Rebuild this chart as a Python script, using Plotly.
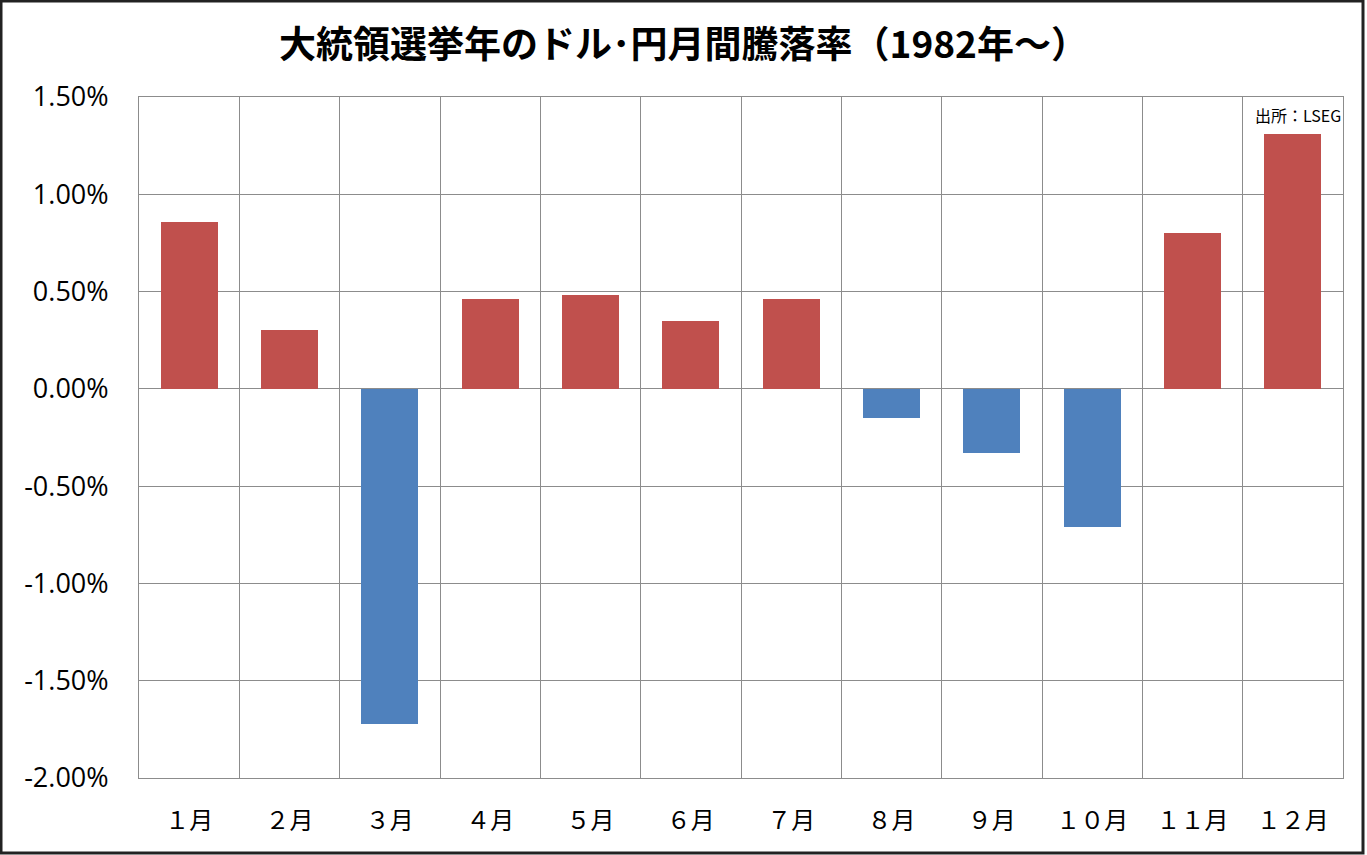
import plotly.graph_objects as go

months = ["１月", "２月", "３月", "４月", "５月", "６月", "７月", "８月", "９月", "１０月", "１１月", "１２月"]
values = [0.86, 0.30, -1.72, 0.46, 0.48, 0.35, 0.46, -0.15, -0.33, -0.71, 0.80, 1.31]
tick_vals = [1.5, 1.0, 0.5, 0.0, -0.5, -1.0, -1.5, -2.0]
tick_text = [f"{v:.2f}%" for v in tick_vals]

RED = "#C0504D"
BLUE = "#4F81BD"
colors = [RED if v >= 0 else BLUE for v in values]
xpos = list(range(1, len(months) + 1))

fig = go.Figure()
fig.add_trace(go.Bar(x=xpos, y=values, marker=dict(color=colors, line=dict(width=0)),
                     width=0.57, showlegend=False, hoverinfo="y"))
# invisible trace for category labels axis
fig.add_trace(go.Scatter(x=xpos, y=[None] * len(xpos), xaxis="x2", showlegend=False,
                         mode="markers", hoverinfo="skip"))

L, R, T, B = 139, 24, 97, 77
W, H = 1367, 855
pw, ph = W - L - R, H - T - B

fig.update_layout(
    width=W, height=H,
    margin=dict(l=L, r=R, t=T, b=B),
    paper_bgcolor="white", plot_bgcolor="white",
    title=dict(text="<b>大統領選挙年のドル･円月間騰落率（1982年～）</b>", x=0.5, xanchor="center",
               y=1 - 45 / H, yanchor="middle",
               font=dict(family="Noto Sans CJK JP", size=37, color="black")),
    xaxis=dict(range=[0.5, 12.5], tick0=0.5, dtick=1, showticklabels=False, showgrid=True,
               gridcolor="#8c8c8c", gridwidth=1, showline=True, linecolor="#8c8c8c", mirror=True,
               zeroline=False, ticks=""),
    xaxis2=dict(range=[0.5, 12.5], overlaying="x", side="bottom", tickvals=xpos, ticktext=months,
                showgrid=False, zeroline=False, showline=False, ticks="", ticklabelstandoff=26,
                tickfont=dict(family="Noto Sans CJK JP", size=24, color="black")),
    yaxis=dict(range=[-2.0, 1.5], tickvals=tick_vals, ticktext=tick_text, showgrid=True,
               gridcolor="#8c8c8c", gridwidth=1, zeroline=False, showline=True, linecolor="#8c8c8c",
               mirror=True, ticks="", ticklabelstandoff=24,
               tickfont=dict(family="Open Sans", size=27, color="black")),
    bargap=0,
    annotations=[dict(text="出所：LSEG", xref="paper", yref="paper", x=1.0, y=1 - (115 - T) / ph,
                      xanchor="right", yanchor="middle", showarrow=False,
                      font=dict(family="Noto Sans CJK JP", size=16, color="black"))],
    shapes=[dict(type="rect", xref="paper", yref="paper",
                 x0=(1 - L) / pw, x1=(1363 - L) / pw,
                 y0=(778 - 853) / ph, y1=(778 - 1) / ph,
                 line=dict(color="#222222", width=3), fillcolor="rgba(0,0,0,0)")],
)

fig.write_html("out.html")
